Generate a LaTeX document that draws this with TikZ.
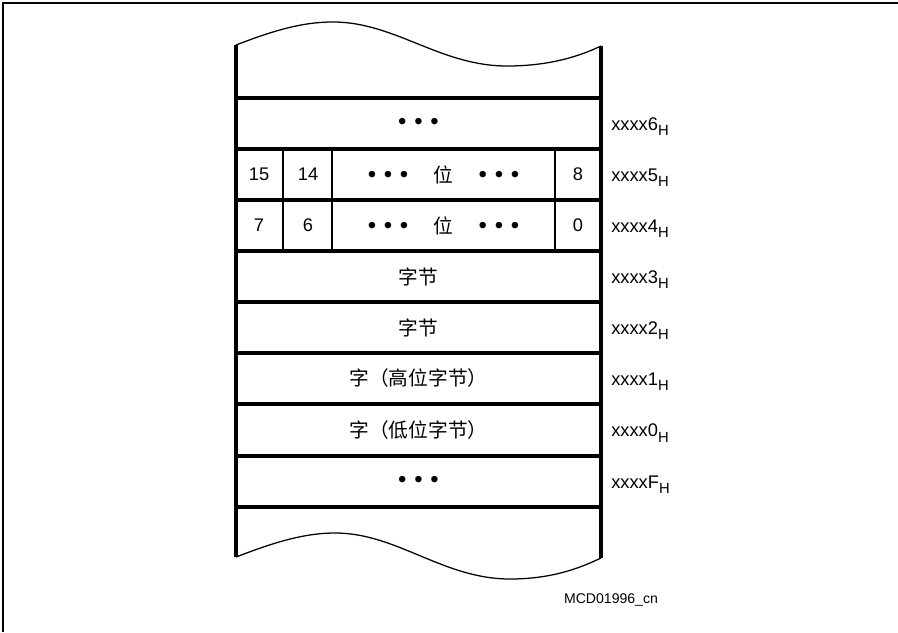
\documentclass[tikz,border=0pt]{standalone}
\usepackage{fontspec}
\setmainfont{Liberation Sans}
\newfontfamily\cjk{Noto Sans CJK SC}
\usetikzlibrary{positioning}

\newcommand\subH{\raisebox{-4pt}{\fontsize{10.5}{12}\selectfont H}}
\newcommand\bigdot{{\fontsize{17}{17}\selectfont •}}
\newcommand\threedots{\bigdot\hspace{5.5pt}\bigdot\hspace{5.5pt}\bigdot}

\begin{document}
\begin{tikzpicture}[x=0.025cm,y=-0.025cm,
 wall/.style={line width=2.5pt,black},
 sep/.style={line width=1.7pt,black},
 wave/.style={line width=0.9pt,black},
 cell/.style={font=\fontsize{13}{15}\selectfont,inner sep=0pt},
 cn/.style={font=\cjk\fontsize{14}{16}\selectfont,inner sep=0pt},
 addr/.style={anchor=base west,font=\fontsize{13}{15}\selectfont,inner sep=0pt}]
\useasboundingbox (0,0) rectangle (898,632);
% frame
\draw[line width=1.4pt] (3,632) -- (3,3) -- (898,3);
% torn edges
\draw[wave] (236,45) .. controls (270,32) and (300,22) .. (333,22)
 .. controls (395,22) and (440,66) .. (507,66) .. controls (550,66) and (580,56) .. (601,46);
\draw[wave] (236,557) .. controls (270,544) and (302,533) .. (335,533)
 .. controls (397,533) and (443,579) .. (510,579) .. controls (552,579) and (580,568) .. (601,558);
% column
\draw[wall] (236,45) -- (236,557);
\draw[wall] (601,46) -- (601,558);
\draw[wall] (236,98) -- (601,98);
\draw[wall] (236,149) -- (601,149);
\draw[wall] (236,200) -- (601,200);
\draw[wall] (236,251) -- (601,251);
\draw[wall] (236,302) -- (601,302);
\draw[wall] (236,353) -- (601,353);
\draw[wall] (236,404) -- (601,404);
\draw[wall] (236,456) -- (601,456);
\draw[wall] (236,507) -- (601,507);
\draw[sep] (283,149) -- (283,251);
\draw[sep] (332,149) -- (332,251);
\draw[sep] (555,149) -- (555,251);
% cell contents
\node[cell] (top) at (418.5,123.5) {\threedots};
\node[cell] (b15) at (259,174.5) {15};
\node[cell] (b14) at (308,174.5) {14};
\node[cell] (bhi) at (443.5,174.5) {\threedots\hspace{18pt}{\cjk\fontsize{14}{16}\selectfont 位}\hspace{18pt}\threedots};
\node[cell] (b8) at (578,174.5) {8};
\node[cell] (b7) at (259,225.5) {7};
\node[cell] (b6) at (308,225.5) {6};
\node[cell] (blo) at (443.5,225.5) {\threedots\hspace{18pt}{\cjk\fontsize{14}{16}\selectfont 位}\hspace{18pt}\threedots};
\node[cell] (b0) at (578,225.5) {0};
\node[cn] (byte3) at (418.5,276.5) {字节};
\node[cn] (byte2) at (418.5,327.5) {字节};
\node[cn] (wordh) at (418.5,378.5) {字（高位字节）};
\node[cn] (wordl) at (418.5,430) {字（低位字节）};
\node[cell] (bot) at (418.5,481.5) {\threedots};
% addresses
\node[addr] (a6) at (611,130) {xxxx6\subH};
\node[addr] (a5) at (611,181) {xxxx5\subH};
\node[addr] (a4) at (611,232) {xxxx4\subH};
\node[addr] (a3) at (611,283) {xxxx3\subH};
\node[addr] (a2) at (611,334) {xxxx2\subH};
\node[addr] (a1) at (611,385) {xxxx1\subH};
\node[addr] (a0) at (611,436.5) {xxxx0\subH};
\node[addr] (aF) at (611,488) {xxxxF\subH};
\node[font=\fontsize{10}{12}\selectfont,inner sep=0pt] (fig) at (611,600) {MCD01996\_cn};
\end{tikzpicture}
\end{document}
